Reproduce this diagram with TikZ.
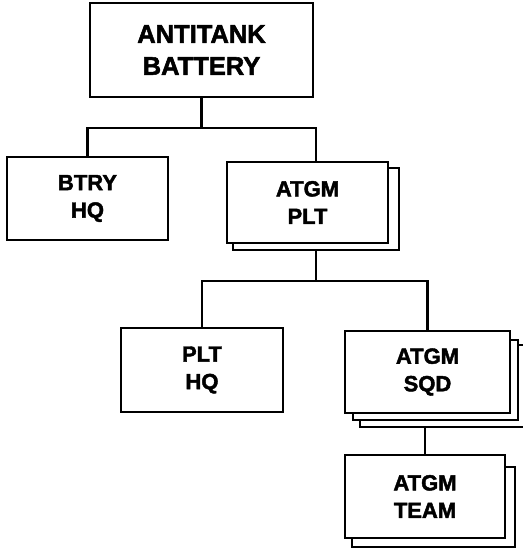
\documentclass[tikz,border=0pt]{standalone}
\usepackage{fontspec}
\setmainfont{Liberation Sans}[BoldFeatures={FakeBold=2}]
\begin{document}
\begin{tikzpicture}[x=1pt,y=-1pt,
  box/.style={draw=black,line width=2.5pt,fill=white,rectangle,inner sep=0pt,align=center,font=\bfseries\fontsize{22}{27.5}\selectfont},
  big/.style={font=\bfseries\fontsize{25.5}{32}\selectfont},
  link/.style={draw=black,line width=2.5pt}]
\useasboundingbox (0,0) rectangle (523,550);
% top
\node[box,big,minimum width=223pt,minimum height=94pt] (top) at (201.5,50) {ANTITANK\\BATTERY};
\node[box,minimum width=161pt,minimum height=83pt] (btry) at (87.5,198.5) {BTRY\\HQ};
\node[box,minimum width=166pt,minimum height=82pt] (pltb) at (316,209) {};
\node[box,minimum width=161pt,minimum height=81pt] (pltf) at (307.5,202.5) {ATGM\\PLT};
\node[box,minimum width=162pt,minimum height=84pt] (plthq) at (202,370) {PLT\\HQ};
\node[box,minimum width=168pt,minimum height=82pt] (sqd3) at (444,386) {};
\node[box,minimum width=165pt,minimum height=80pt] (sqd2) at (435.5,380) {};
\node[box,minimum width=165pt,minimum height=82pt] (sqdf) at (427.5,372) {ATGM\\SQD};
\node[box,minimum width=163pt,minimum height=80pt] (teamb) at (433.5,507) {};
\node[box,minimum width=160pt,minimum height=83pt] (teamf) at (425,496.5) {ATGM\\TEAM};
% connectors
\coordinate (j1) at (201.5,128);
\coordinate (j2) at (316,281);
\draw[link] (top.south) -- (j1);
\draw[link] (btry.north) |- (j1) -| ([xshift=8.5pt]pltf.north);
\draw[link] (pltb.south) -- (j2);
\draw[link] (plthq.north) |- (j2) -| (sqdf.north);
\draw[link] (teamf.north) -- (teamf.north |- sqd3.south);
\end{tikzpicture}
\end{document}
